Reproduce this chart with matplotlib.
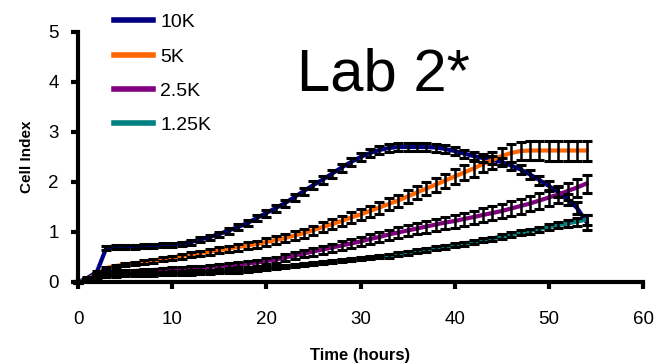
import numpy as np
import matplotlib
matplotlib.use("Agg")
import matplotlib.pyplot as plt

plt.rcParams['font.family'] = ['Liberation Sans', 'DejaVu Sans']

time_h = list(range(0, 55))

ci_10k = [0.00, 0.08, 0.20, 0.68, 0.70, 0.70, 0.71, 0.72, 0.73, 0.74,
          0.75, 0.77, 0.80, 0.85, 0.90, 0.96, 1.03, 1.10, 1.18, 1.28,
          1.38, 1.48, 1.58, 1.70, 1.82, 1.94, 2.05, 2.17, 2.29, 2.40,
          2.50, 2.58, 2.64, 2.68, 2.70, 2.70, 2.70, 2.70, 2.69, 2.66,
          2.62, 2.57, 2.52, 2.48, 2.44, 2.40, 2.33, 2.25, 2.15, 2.04,
          1.92, 1.80, 1.66, 1.48, 1.20]
err_10k = [0.02, 0.02, 0.03, 0.04, 0.04, 0.04, 0.04, 0.04, 0.04, 0.04,
           0.04, 0.04, 0.05, 0.05, 0.05, 0.05, 0.06, 0.06, 0.06, 0.06,
           0.07, 0.07, 0.07, 0.07, 0.07, 0.08, 0.08, 0.08, 0.08, 0.08,
           0.08, 0.08, 0.08, 0.08, 0.08, 0.08, 0.08, 0.08, 0.08, 0.08,
           0.08, 0.08, 0.08, 0.08, 0.08, 0.08, 0.08, 0.09, 0.09, 0.09,
           0.10, 0.10, 0.11, 0.12, 0.15]

ci_5k = [0.00, 0.06, 0.15, 0.28, 0.32, 0.35, 0.37, 0.40, 0.43, 0.46,
         0.49, 0.52, 0.55, 0.58, 0.61, 0.64, 0.67, 0.70, 0.73, 0.76,
         0.80, 0.84, 0.88, 0.93, 0.98, 1.04, 1.10, 1.16, 1.22, 1.29,
         1.35, 1.42, 1.49, 1.56, 1.63, 1.71, 1.79, 1.87, 1.95, 2.03,
         2.11, 2.19, 2.27, 2.36, 2.44, 2.52, 2.58, 2.62, 2.63, 2.63,
         2.63, 2.63, 2.63, 2.63, 2.63]
err_5k = [0.02, 0.02, 0.03, 0.03, 0.03, 0.03, 0.03, 0.04, 0.04, 0.04,
          0.04, 0.05, 0.05, 0.05, 0.06, 0.06, 0.06, 0.07, 0.07, 0.07,
          0.08, 0.08, 0.08, 0.09, 0.09, 0.09, 0.10, 0.10, 0.10, 0.11,
          0.11, 0.11, 0.12, 0.12, 0.12, 0.13, 0.13, 0.13, 0.14, 0.14,
          0.15, 0.15, 0.16, 0.16, 0.17, 0.17, 0.18, 0.18, 0.19, 0.19,
          0.20, 0.20, 0.20, 0.20, 0.20]

ci_2_5k = [0.00, 0.05, 0.12, 0.19, 0.20, 0.21, 0.22, 0.23, 0.24, 0.25,
           0.26, 0.27, 0.28, 0.29, 0.30, 0.32, 0.33, 0.35, 0.37, 0.39,
           0.42, 0.45, 0.49, 0.53, 0.57, 0.61, 0.65, 0.69, 0.73, 0.77,
           0.81, 0.86, 0.90, 0.95, 0.99, 1.03, 1.07, 1.11, 1.15, 1.19,
           1.22, 1.26, 1.30, 1.34, 1.38, 1.42, 1.47, 1.52, 1.57, 1.63,
           1.69, 1.75, 1.82, 1.89, 1.97]
err_2_5k = [0.02, 0.02, 0.02, 0.03, 0.03, 0.03, 0.03, 0.03, 0.03, 0.04,
            0.04, 0.04, 0.04, 0.04, 0.05, 0.05, 0.05, 0.05, 0.06, 0.06,
            0.06, 0.06, 0.07, 0.07, 0.07, 0.08, 0.08, 0.08, 0.09, 0.09,
            0.09, 0.10, 0.10, 0.10, 0.11, 0.11, 0.11, 0.12, 0.12, 0.12,
            0.13, 0.13, 0.13, 0.14, 0.14, 0.14, 0.15, 0.15, 0.15, 0.16,
            0.16, 0.17, 0.17, 0.18, 0.18]

ci_1_25k = [0.00, 0.04, 0.09, 0.12, 0.13, 0.14, 0.14, 0.15, 0.15, 0.16,
            0.16, 0.17, 0.17, 0.18, 0.19, 0.20, 0.21, 0.22, 0.23, 0.25,
            0.27, 0.29, 0.31, 0.33, 0.35, 0.37, 0.39, 0.41, 0.43, 0.45,
            0.47, 0.49, 0.51, 0.53, 0.56, 0.59, 0.62, 0.65, 0.68, 0.71,
            0.74, 0.77, 0.80, 0.84, 0.87, 0.91, 0.95, 0.99, 1.02, 1.06,
            1.10, 1.14, 1.17, 1.21, 1.25]
err_1_25k = [0.01, 0.01, 0.02, 0.02, 0.02, 0.02, 0.02, 0.02, 0.02, 0.02,
             0.02, 0.02, 0.02, 0.02, 0.02, 0.02, 0.02, 0.03, 0.03, 0.03,
             0.03, 0.03, 0.03, 0.03, 0.03, 0.03, 0.03, 0.03, 0.03, 0.03,
             0.03, 0.03, 0.03, 0.04, 0.04, 0.04, 0.04, 0.04, 0.04, 0.04,
             0.04, 0.04, 0.04, 0.04, 0.04, 0.05, 0.05, 0.05, 0.05, 0.05,
             0.06, 0.06, 0.07, 0.08, 0.10]

labels = ["10K", "5K", "2.5K", "1.25K"]
colors = ["#000080", "#FF6600", "#800080", "#008080"]
series = [ci_10k, ci_5k, ci_2_5k, ci_1_25k]
errors = [err_10k, err_5k, err_2_5k, err_1_25k]

fig = plt.figure(figsize=(6.59, 3.64), dpi=100)
ax = fig.add_axes([78/659, 1-282/364, (643-78)/659, 250/364])

handles = []
for vals, err, col, lab in zip(series, errors, colors, labels):
    h, = ax.plot(time_h, vals, color=col, lw=3, zorder=2, label=lab, clip_on=False)
    ax.errorbar(time_h, vals, yerr=err, fmt='none', ecolor='black',
                elinewidth=1.8, capsize=3.6, capthick=2.2, zorder=3, clip_on=False)
    handles.append(h)

ax.set_xlim(0, 60)
ax.set_ylim(0, 5)
ax.set_xticks([0, 10, 20, 30, 40, 50, 60])
ax.set_yticks([0, 1, 2, 3, 4, 5])
for s in ['top', 'right']:
    ax.spines[s].set_visible(False)
for s in ['left', 'bottom']:
    ax.spines[s].set_linewidth(3)
ax.tick_params(axis='both', direction='out', length=5, width=3, labelsize=13.5)
ax.tick_params(axis='x', pad=16)
ax.tick_params(axis='y', pad=9)

ax.set_xlabel("Time (hours)", fontsize=12, fontweight='bold', labelpad=14)
ax.set_ylabel("Cell Index", fontsize=11, fontweight='bold', labelpad=10)

fig.text(297/659, 1-75/364, "Lab 2*", fontsize=43, ha='left', va='center')

leg = fig.legend(handles=handles, labels=labels, loc='upper left',
                 bbox_to_anchor=(100/659, 1-0/364), frameon=False,
                 fontsize=14, handlelength=2.0, handletextpad=0.4,
                 labelspacing=0.86, borderpad=0.2)
for line in leg.get_lines():
    line.set_linewidth(4)

fig.savefig("out.png", dpi=100)
